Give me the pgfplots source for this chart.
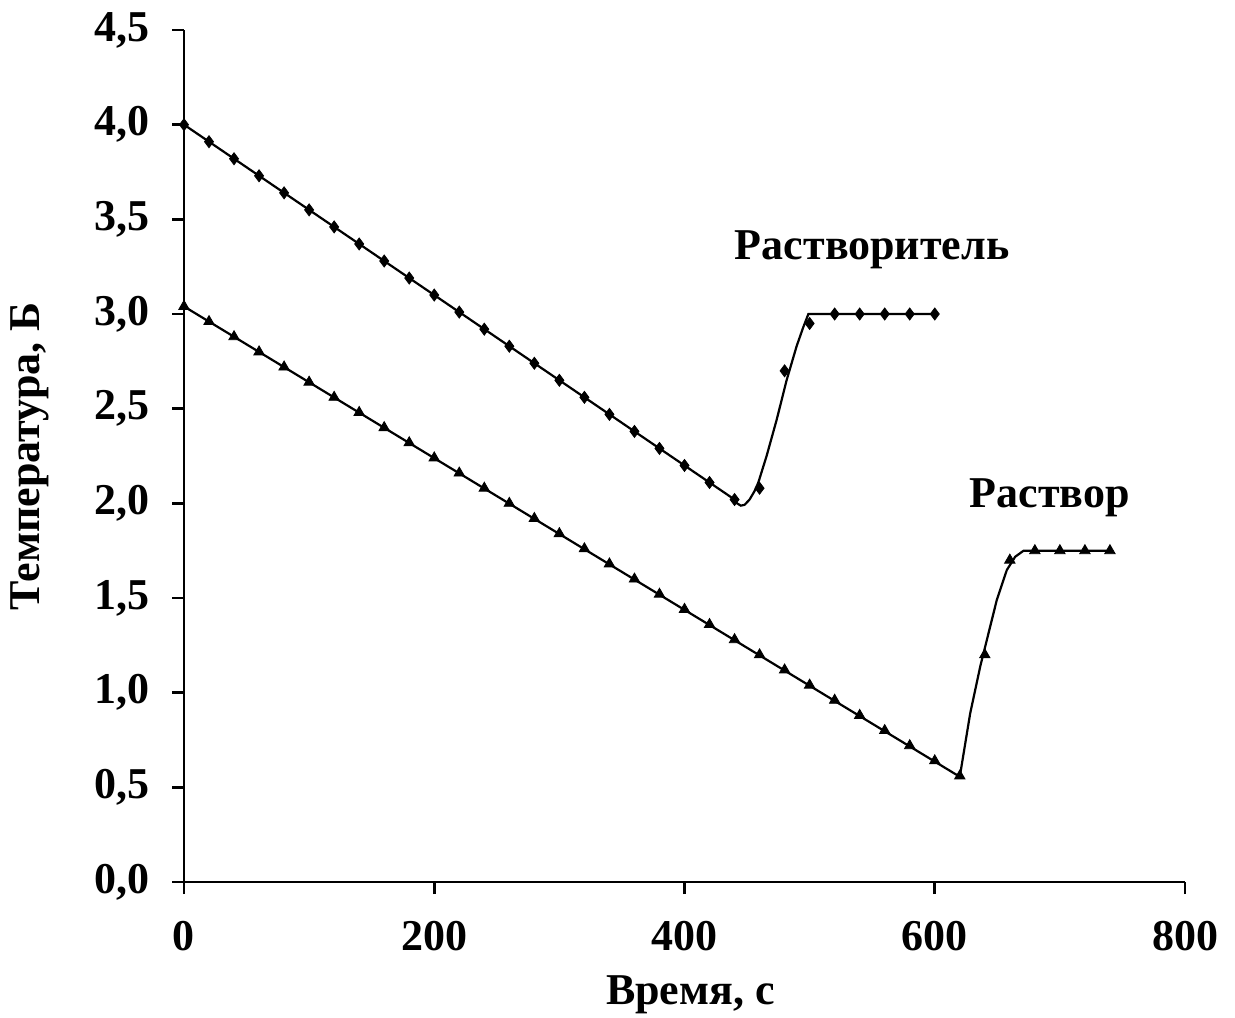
\documentclass[border=0pt]{standalone}
\usepackage{fontspec}
\setmainfont{Liberation Serif}
\usepackage{pgfplots}
\pgfplotsset{compat=1.18}
\begin{document}
\begin{tikzpicture}
\begin{axis}[
  width=500.5pt, height=426pt, scale only axis,
  xmin=0, xmax=800, ymin=0, ymax=4.5,
  axis lines*=left,
  xtick={0,200,400,600,800},
  ytick={0,0.5,1,1.5,2,2.5,3,3.5,4,4.5},
  tick align=outside, major tick length=6pt,
  every tick/.style={line width=1.4pt, black},
  axis line style={line width=1.4pt},
  /pgf/number format/assume math mode=true,
  yticklabel style={xshift=-7.5pt, /pgf/number format/.cd, fixed, fixed zerofill, precision=1, use comma},
  xticklabel style={yshift=-10pt},
  ticklabel style={font=\fontsize{22}{26}\selectfont\bfseries},
  every axis x label/.style={at={(axis description cs:0.506,-0.1326)}, anchor=center, font=\fontsize{22}{26}\selectfont\bfseries},
  every axis y label/.style={at={(axis description cs:-0.1538,0.5)}, rotate=90, anchor=center, font=\fontsize{22}{26}\selectfont\bfseries},
  xlabel={Время, с}, ylabel={Температура, Б},
  clip=false,
]
% solvent line
\addplot[black, line width=1.1pt, no marks] coordinates {
(0,4.0)(440,2.02)(442,2.0)(445,1.988)(448,1.992)(452,2.02)(456,2.065)(459,2.11)(465.6,2.25)(473.6,2.44)(481.6,2.65)(489.6,2.83)(494.9,2.93)(499,3.0)(600,3.0)};
% solvent markers
\addplot[only marks, mark=diamond*, mark size=3pt, black] coordinates {
(0,4.0)(20,3.91)(40,3.82)(60,3.73)(80,3.64)(100,3.55)(120,3.46)(140,3.37)(160,3.28)(180,3.19)(200,3.10)(220,3.01)(240,2.92)(260,2.83)(280,2.74)(300,2.65)(320,2.56)(340,2.47)(360,2.38)(380,2.29)(400,2.20)(420,2.11)(440,2.02)(460,2.08)(480,2.70)(500,2.95)(520,3.0)(540,3.0)(560,3.0)(580,3.0)(600,3.0)};
% solution line
\addplot[black, line width=1.1pt, no marks] coordinates {
(0,3.04)(620,0.556)(628.3,0.89)(636.3,1.137)(641.6,1.278)(649.6,1.49)(657.6,1.648)(664.3,1.718)(671,1.75)(740,1.75)};
% solution markers
\addplot[only marks, mark=triangle*, mark size=3pt, black] coordinates {
(0,3.04)(20,2.96)(40,2.88)(60,2.80)(80,2.72)(100,2.64)(120,2.56)(140,2.48)(160,2.40)(180,2.32)(200,2.24)(220,2.16)(240,2.08)(260,2.00)(280,1.92)(300,1.84)(320,1.76)(340,1.68)(360,1.60)(380,1.52)(400,1.44)(420,1.36)(440,1.28)(460,1.20)(480,1.12)(500,1.04)(520,0.96)(540,0.88)(560,0.80)(580,0.72)(600,0.64)(620,0.56)(640,1.20)(660,1.70)(680,1.75)(700,1.75)(720,1.75)(740,1.75)};
\node[font=\fontsize{22}{26}\selectfont\bfseries] at (axis cs:550,3.34) {Растворитель};
\node[font=\fontsize{22}{26}\selectfont\bfseries] at (axis cs:692,2.03) {Раствор};
\end{axis}
\pgfresetboundingbox
\path ([shift={(-92pt,-67.5pt)}]current axis.south west) rectangle ([shift={(25pt,15pt)}]current axis.north east);
\end{tikzpicture}
\end{document}
